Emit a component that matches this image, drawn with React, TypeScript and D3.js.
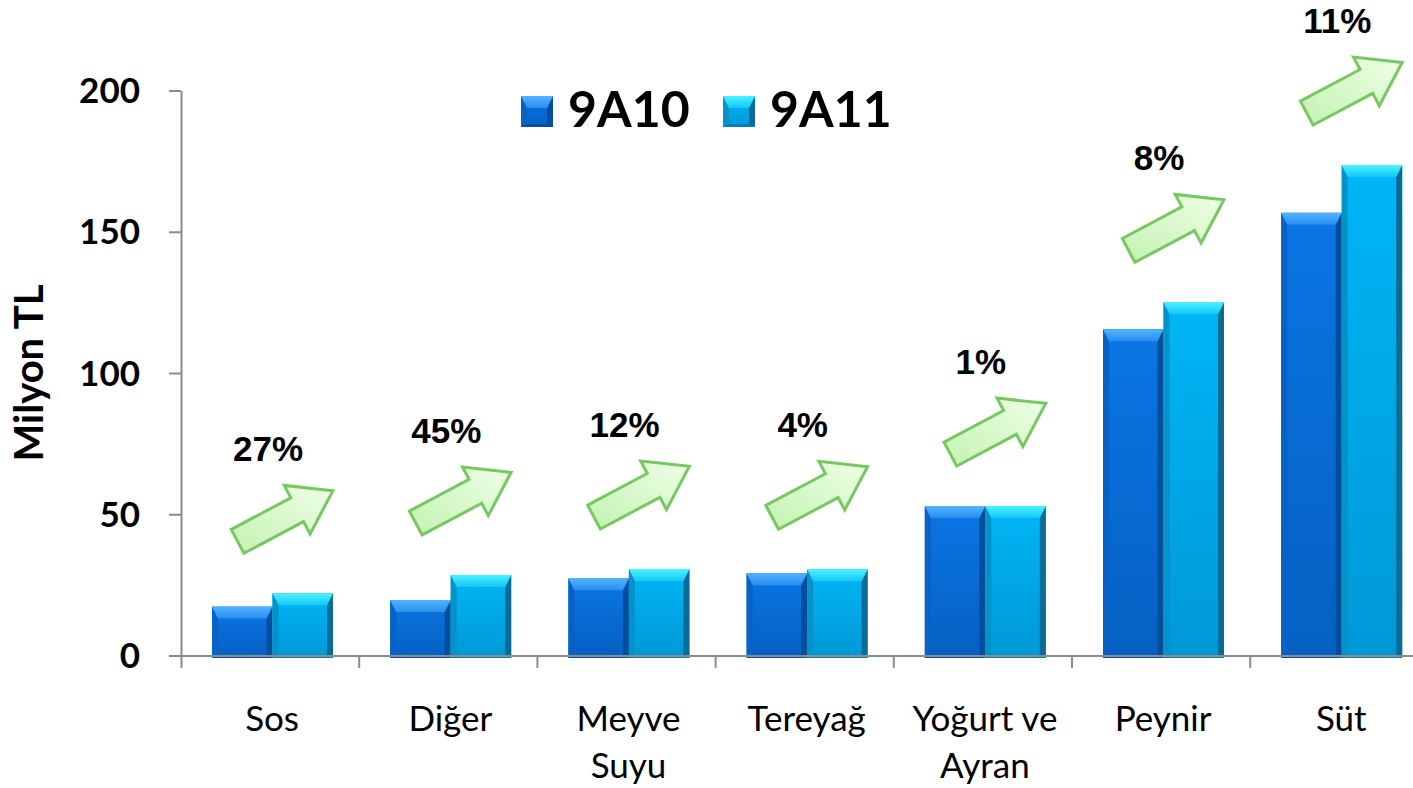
import React from "react";
import * as d3 from "d3";

const categories = ["Sos", "Diğer", "Meyve Suyu", "Tereyağ", "Yoğurt ve Ayran", "Peynir", "Süt"];
const categoryLines = [["Sos"], ["Diğer"], ["Meyve", "Suyu"], ["Tereyağ"], ["Yoğurt ve", "Ayran"], ["Peynir"], ["Süt"]];
const seriesNames = ["9A10", "9A11"];
const values9A10 = [17.5, 19.8, 27.5, 29.3, 53.1, 115.7, 156.9];
const values9A11 = [22.2, 28.7, 30.8, 30.7, 53.1, 125.2, 173.8];
const growthLabels = ["27%", "45%", "12%", "4%", "1%", "8%", "11%"];
const yTicks = [0, 50, 100, 150, 200];

const W = 1413;
const H = 788;
const X0 = 181;
const BAND = 178.2;
const Y0 = 656;
const Y200 = 91;

const palettes = [
  { id: "s0", bodyTop: "#0A76E4", bodyBot: "#0560C2", bevTop: "#52B4FF", bevBot: "#2A8EF0", left: "#0862C6", right: "#044E9C", bottom: "#04509E", legendTop: "#3A9CF4" },
  { id: "s1", bodyTop: "#00B6F6", bodyBot: "#0098D6", bevTop: "#4AF4FF", bevBot: "#16C6F8", left: "#0592C8", right: "#0A6C96", bottom: "#067FAE", legendTop: "#40E8FF" },
];

function Bar({ x, y, w, h, p }: any) {
  const bt = Math.min(12, h / 2);
  const bs = 6;
  const bb = 3;
  return (
    <g>
      <rect x={x} y={y} width={w} height={h} fill={`url(#body-${p.id})`} />
      <polygon points={`${x},${y} ${x + bs},${y + bt} ${x + bs},${y + h - bb} ${x},${y + h}`} fill={p.left} />
      <polygon points={`${x + w},${y} ${x + w - bs},${y + bt} ${x + w - bs},${y + h - bb} ${x + w},${y + h}`} fill={p.right} />
      <polygon points={`${x},${y + h} ${x + bs},${y + h - bb} ${x + w - bs},${y + h - bb} ${x + w},${y + h}`} fill={p.bottom} />
      <polygon points={`${x},${y} ${x + w},${y} ${x + w - bs},${y + bt} ${x + bs},${y + bt}`} fill={`url(#bev-${p.id})`} />
    </g>
  );
}

function Arrow({ cx, bottom }: any) {
  // block arrow pointing up-right
  const L = 108, shaftLen = 67.5, sw = 13.5, hw = 27.5;
  const ang = -28;
  const rad = (ang * Math.PI) / 180;
  const pts = [
    [0, -sw], [shaftLen, -sw], [shaftLen, -hw], [L, 0], [shaftLen, hw], [shaftLen, sw], [0, sw],
  ].map(([px, py]) => [px * Math.cos(rad) - py * Math.sin(rad), px * Math.sin(rad) + py * Math.cos(rad)]);
  const xs = pts.map((q) => q[0]);
  const ys = pts.map((q) => q[1]);
  const mx = (d3.min(xs)! + d3.max(xs)!) / 2;
  const my = d3.max(ys)!;
  const str = pts.map((q) => `${q[0] - mx + cx},${q[1] - my + bottom}`).join(" ");
  return <polygon points={str} fill="url(#arrowFill)" stroke="#78C862" strokeWidth={3} strokeLinejoin="miter" />;
}

export default function App() {
  const x = d3.scaleBand<string>().domain(categories).range([X0, X0 + BAND * categories.length]);
  const xs = d3.scaleBand<string>().domain(seriesNames).range([31, 152]);
  const y = d3.scaleLinear().domain([0, 200]).range([Y0, Y200]);
  const series = [values9A10, values9A11];

  return (
    <svg width={W} height={H} style={{ position: "absolute", left: 0, top: 0, background: "#fff" }}>
      <defs>
        {palettes.map((p) => (
          <React.Fragment key={p.id}>
            <linearGradient id={`body-${p.id}`} x1="0" y1="0" x2="0" y2="1">
              <stop offset="0" stopColor={p.bodyTop} />
              <stop offset="1" stopColor={p.bodyBot} />
            </linearGradient>
            <linearGradient id={`bev-${p.id}`} x1="0" y1="0" x2="0" y2="1">
              <stop offset="0" stopColor={p.bevTop} />
              <stop offset="1" stopColor={p.bevBot} />
            </linearGradient>
          </React.Fragment>
        ))}
        <linearGradient id="arrowFill" x1="1" y1="0" x2="0" y2="1">
          <stop offset="0" stopColor="#EEFFE6" />
          <stop offset="1" stopColor="#C4F2B2" />
        </linearGradient>
      </defs>

      {/* bars */}
      {categories.map((c, i) =>
        seriesNames.map((s, j) => {
          const v = series[j][i];
          const bx = x(c)! + xs(s)!;
          const by = y(v);
          return <Bar key={c + s} x={bx} y={by} w={xs.bandwidth()} h={Y0 + 2 - by} p={palettes[j]} />;
        })
      )}

      {/* axes */}
      <g stroke="#8C8C8C" strokeWidth={2} fill="none">
        <line x1={X0 + 0.5} y1={y(200)} x2={X0 + 0.5} y2={Y0 + 12} />
        <line x1={X0} y1={Y0} x2={W} y2={Y0} />
        {yTicks.map((t) => (
          <line key={t} x1={X0 - 12} y1={y(t)} x2={X0} y2={y(t)} />
        ))}
        {categories.map((c) => (
          <line key={c} x1={x(c)! + BAND} y1={Y0} x2={x(c)! + BAND} y2={Y0 + 12} />
        ))}
      </g>

      {/* y tick labels */}
      {yTicks.map((t) => (
        <text key={t} x={140} y={y(t) + 12} textAnchor="end" fontFamily="Lato" fontWeight={700} fontSize={35} fill="#000">
          {t}
        </text>
      ))}
      <text transform={`translate(43,373) rotate(-90)`} textAnchor="middle" fontFamily="Lato" fontWeight={700} fontSize={40} fill="#000">
        Milyon TL
      </text>

      {/* category labels */}
      {categories.map((c, i) => (
        <text key={c} x={x(c)! + BAND / 2 + 2} y={731} textAnchor="middle" fontFamily="Lato" fontSize={35} fill="#000">
          {categoryLines[i].map((ln, k) => (
            <tspan key={k} x={x(c)! + BAND / 2 + 2} dy={k === 0 ? 0 : 47}>
              {ln}
            </tspan>
          ))}
        </text>
      ))}

      {/* growth arrows and labels */}
      {categories.map((c, i) => {
        const top = y(Math.max(values9A10[i], values9A11[i]));
        const cx = x(c)! + BAND / 2 + 12;
        const bottom = top - 40;
        const arrowTop = bottom - 68;
        return (
          <g key={c}>
            <Arrow cx={cx} bottom={bottom} />
            <text x={cx - 14} y={arrowTop - 24} textAnchor="middle" fontFamily="Liberation Sans" fontWeight={700} fontSize={35} fill="#000">
              {growthLabels[i]}
            </text>
          </g>
        );
      })}

      {/* legend */}
      {seriesNames.map((s, j) => {
        const lx = 521 + j * 202;
        return (
          <g key={s}>
            <Bar x={lx} y={96} w={32} h={31} p={{ ...palettes[j], bevTop: palettes[j].legendTop }} />
            <text x={lx + 47} y={127} fontFamily="Lato" fontWeight={700} fontSize={50} fill="#000">
              {s}
            </text>
          </g>
        );
      })}
    </svg>
  );
}
